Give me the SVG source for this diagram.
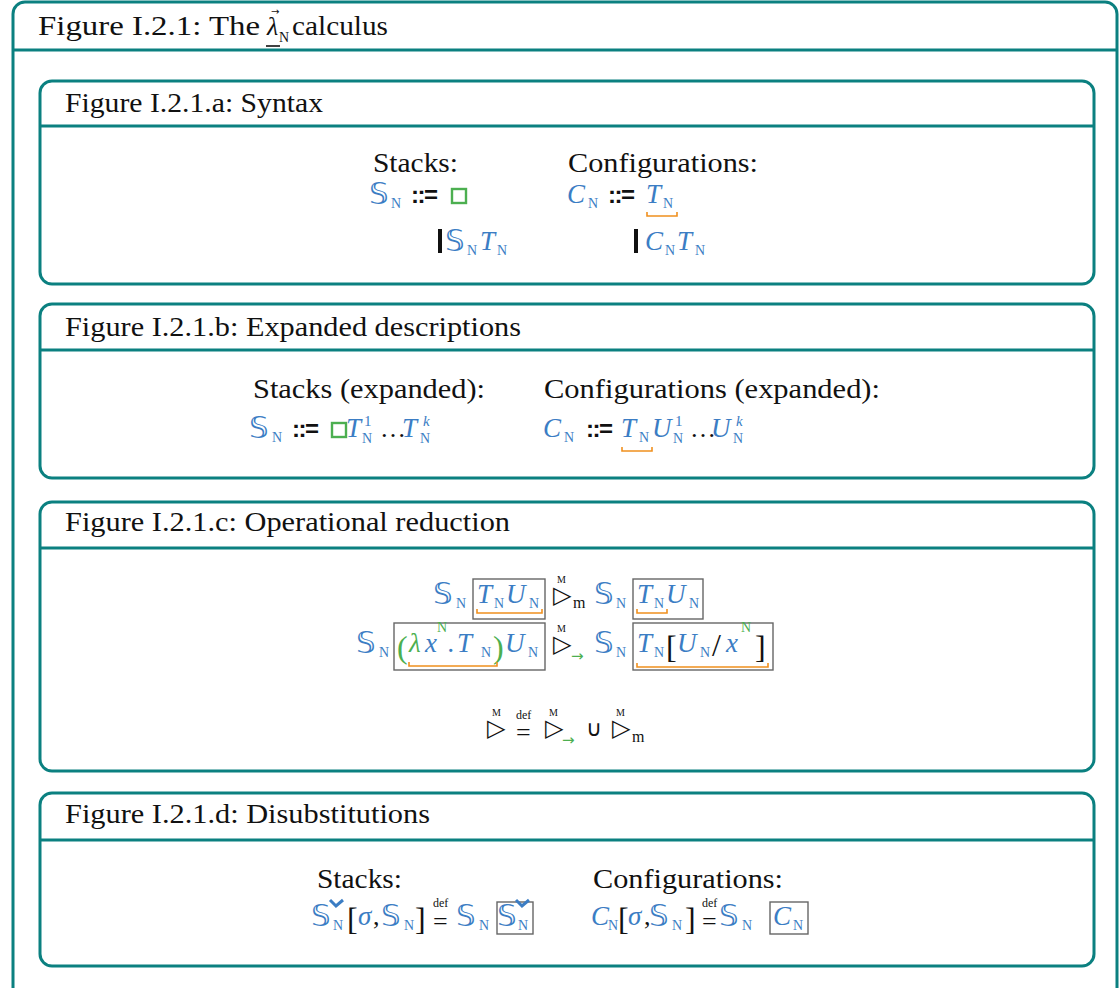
<svg xmlns="http://www.w3.org/2000/svg" width="1120" height="988" viewBox="0 0 1120 988">
<style>
.frame{fill:#fff;stroke:#0b8080;stroke-width:3}
.div{stroke:#0b8080;stroke-width:3}
.h{font-family:"Liberation Serif",serif;font-size:27px;fill:#111}
.m{font-family:"Liberation Serif",serif;font-style:italic;font-size:27px;fill:#3b7dc4}
.ds{font-family:"DejaVu Sans",sans-serif;font-style:italic;font-size:31px;fill:#3b7dc4}
.sub{font-family:"Liberation Serif",serif;font-size:14px;fill:#3b7dc4}
.sup{font-family:"Liberation Serif",serif;font-size:15px;fill:#3b7dc4}
.gs{font-family:"Liberation Serif",serif;font-size:14px;fill:#4caf50}
.op{font-family:"Liberation Sans",sans-serif;font-weight:bold;font-size:24px;fill:#111;letter-spacing:-1.5px}
.blk{font-family:"Liberation Serif",serif;font-size:26px;fill:#111}
.tri{font-family:"DejaVu Sans",sans-serif;font-size:24px;fill:#111}
.tiny{font-family:"Liberation Serif",serif;font-size:10px;fill:#111}
.sm{font-family:"Liberation Serif",serif;font-size:16px;fill:#111}
.dfs{font-family:"Liberation Serif",serif;font-size:12px;fill:#111}
.eq{font-family:"Liberation Serif",serif;font-size:26px;fill:#111}
.ga{font-family:"DejaVu Sans",sans-serif;font-size:15px;fill:#4caf50}
.ub{fill:none;stroke:#f0901e;stroke-width:1.6}
.bx{fill:none;stroke:#666;stroke-width:1.4}
.gsq{fill:none;stroke:#4caf50;stroke-width:2.4}
.chk{fill:none;stroke:#3b7dc4;stroke-width:3}
.gp{font-family:"Liberation Serif",serif;font-size:32px;fill:#4caf50}
.gl{font-family:"Liberation Serif",serif;font-style:italic;font-size:27px;fill:#4caf50}
.br{font-family:"Liberation Serif",serif;font-size:32px;fill:#111}
</style>

<g id="outer">
<rect class="frame" x="13" y="2" width="1104" height="1010" rx="12"/>
<line class="div" x1="13" y1="50" x2="1117" y2="50"/>
<text class="h" x="38" y="35" textLength="222" lengthAdjust="spacingAndGlyphs">Figure I.2.1: The</text>
<text x="267" y="35" style="font-family:'Liberation Serif',serif;font-style:italic;font-size:26px;fill:#111">λ</text>
<line x1="266" y1="46" x2="280" y2="46" stroke="#111" stroke-width="1.6"/>
<text x="271" y="15" style="font-family:'DejaVu Sans',sans-serif;font-size:10px;fill:#111">→</text>
<text x="279" y="42" style="font-family:'Liberation Serif',serif;font-size:14px;fill:#111">N</text>
<text class="h" x="292" y="35" textLength="96" lengthAdjust="spacingAndGlyphs">calculus</text>
</g>

<g id="syntax">
<rect class="frame" x="40" y="81" width="1054" height="203" rx="12"/>
<line class="div" x1="40" y1="126" x2="1094" y2="126"/>
<text class="h" x="65" y="112" textLength="258" lengthAdjust="spacingAndGlyphs">Figure I.2.1.a: Syntax</text>
<text class="h" x="373" y="172" textLength="85" lengthAdjust="spacingAndGlyphs">Stacks:</text>
<text class="h" x="568" y="172" textLength="190" lengthAdjust="spacingAndGlyphs">Configurations:</text>
<text class="ds" x="369" y="204">𝕊</text><text class="sub" x="391" y="208">N</text>
<text class="op" x="411" y="203">::=</text>
<rect class="gsq" x="452" y="189" width="14" height="14"/>
<rect x="438" y="229" width="4" height="24" fill="#111"/>
<text class="ds" x="445" y="251">𝕊</text><text class="sub" x="467" y="255">N</text>
<text class="m" x="480" y="250">T</text><text class="sub" x="497" y="255">N</text>
<text class="m" x="567" y="203">C</text><text class="sub" x="588" y="208">N</text>
<text class="op" x="608" y="203">::=</text>
<text class="m" x="646" y="203">T</text><text class="sub" x="663" y="208">N</text>
<path class="ub" d="M647,212 v4 h30 v-4"/>
<rect x="634" y="229" width="4" height="24" fill="#111"/>
<text class="m" x="645" y="250">C</text><text class="sub" x="665" y="255">N</text>
<text class="m" x="677" y="250">T</text><text class="sub" x="695" y="255">N</text>
</g>

<g id="expanded">
<rect class="frame" x="40" y="304" width="1054" height="174" rx="12"/>
<line class="div" x1="40" y1="350" x2="1094" y2="350"/>
<text class="h" x="65" y="336" textLength="456" lengthAdjust="spacingAndGlyphs">Figure I.2.1.b: Expanded descriptions</text>
<text class="h" x="253" y="398" textLength="232" lengthAdjust="spacingAndGlyphs">Stacks (expanded):</text>
<text class="h" x="544" y="398" textLength="336" lengthAdjust="spacingAndGlyphs">Configurations (expanded):</text>
<text class="ds" x="249" y="438">𝕊</text><text class="sub" x="272" y="442">N</text>
<text class="op" x="292" y="437">::=</text>
<rect class="gsq" x="332" y="423" width="14" height="14"/>
<text class="m" x="346" y="437">T</text><text class="sup" x="364" y="426">1</text><text class="sub" x="362" y="443">N</text>
<text class="blk" x="380" y="437">…</text>
<text class="m" x="402" y="437">T</text><text class="sup" x="423" y="426" font-style="italic">k</text><text class="sub" x="420" y="443">N</text>
<text class="m" x="543" y="437">C</text><text class="sub" x="564" y="442">N</text>
<text class="op" x="586" y="437">::=</text>
<text class="m" x="621" y="437">T</text><text class="sub" x="639" y="442">N</text>
<path class="ub" d="M622,447 v4 h30 v-4"/>
<text class="m" x="652" y="437">U</text><text class="sup" x="675" y="426">1</text><text class="sub" x="673" y="443">N</text>
<text class="blk" x="690" y="437">…</text>
<text class="m" x="711" y="437">U</text><text class="sup" x="736" y="426" font-style="italic">k</text><text class="sub" x="733" y="443">N</text>
</g>

<g id="reduction">
<rect class="frame" x="40" y="502" width="1054" height="269" rx="12"/>
<line class="div" x1="40" y1="548" x2="1094" y2="548"/>
<text class="h" x="65" y="531" textLength="445" lengthAdjust="spacingAndGlyphs">Figure I.2.1.c: Operational reduction</text>
<text class="ds" x="433" y="604">𝕊</text><text class="sub" x="456" y="608">N</text>
<rect class="bx" x="473" y="579" width="72" height="40"/>
<text class="m" x="477" y="603">T</text><text class="sub" x="494" y="608">N</text>
<text class="m" x="506" y="603">U</text><text class="sub" x="529" y="608">N</text>
<path class="ub" d="M477,609 v4 h65 v-4"/>
<text class="tri" x="553" y="603">▷</text><text class="tiny" x="557" y="583">M</text><text class="sm" x="573" y="608">m</text>
<text class="ds" x="594" y="604">𝕊</text><text class="sub" x="616" y="608">N</text>
<rect class="bx" x="633" y="579" width="70" height="40"/>
<text class="m" x="637" y="603">T</text><text class="sub" x="654" y="608">N</text>
<text class="m" x="666" y="603">U</text><text class="sub" x="689" y="608">N</text>
<path class="ub" d="M637,609 v4 h30 v-4"/>
<text class="ds" x="356" y="653">𝕊</text><text class="sub" x="379" y="657">N</text>
<rect class="bx" x="394" y="623" width="151" height="47"/>
<text class="gp" x="397" y="658">(</text>
<text class="gl" x="409" y="652">λ</text>
<text class="m" x="425" y="652">x</text><text class="gs" x="437" y="632">N</text>
<text class="m" x="448" y="652">.</text>
<text class="m" x="457" y="652">T</text><text class="sub" x="481" y="657">N</text>
<text class="gp" x="493" y="658">)</text>
<text class="m" x="505" y="652">U</text><text class="sub" x="528" y="657">N</text>
<path class="ub" d="M409,662 v4 h88 v-4"/>
<text class="tri" x="553" y="652">▷</text><text class="tiny" x="557" y="632">M</text>
<text class="ga" x="571" y="661">→</text>
<text class="ds" x="594" y="653">𝕊</text><text class="sub" x="616" y="657">N</text>
<rect class="bx" x="633" y="623" width="140" height="47"/>
<text class="m" x="637" y="652">T</text><text class="sub" x="654" y="657">N</text>
<text class="br" x="666" y="658">[</text>
<text class="m" x="677" y="652">U</text><text class="sub" x="700" y="657">N</text>
<text class="br" x="712" y="656">/</text>
<text class="m" x="726" y="652">x</text><text class="gs" x="741" y="632">N</text>
<text class="br" x="755" y="658">]</text>
<path class="ub" d="M637,663 v4 h131 v-4"/>
<text class="tri" x="487" y="736">▷</text><text class="tiny" x="492" y="716">M</text>
<text class="dfs" x="516" y="719">def</text>
<text class="eq" x="516" y="741">=</text>
<text class="tri" x="545" y="736">▷</text><text class="tiny" x="549" y="716">M</text>
<text class="ga" x="562" y="745">→</text>
<text x="586" y="736" style="font-family:'DejaVu Sans',sans-serif;font-size:22px;fill:#111">∪</text>
<text class="tri" x="612" y="736">▷</text><text class="tiny" x="616" y="716">M</text><text class="sm" x="632" y="742">m</text>
</g>

<g id="disubstitutions">
<rect class="frame" x="40" y="793" width="1054" height="173" rx="12"/>
<line class="div" x1="40" y1="840" x2="1094" y2="840"/>
<text class="h" x="65" y="823" textLength="365" lengthAdjust="spacingAndGlyphs">Figure I.2.1.d: Disubstitutions</text>
<text class="h" x="317" y="888" textLength="85" lengthAdjust="spacingAndGlyphs">Stacks:</text>
<text class="h" x="593" y="888" textLength="190" lengthAdjust="spacingAndGlyphs">Configurations:</text>
<text class="ds" x="311" y="926">𝕊</text><path class="chk" d="M330,900 l6,6 l7,-6"/><text class="sub" x="333" y="930">N</text>
<text class="br" x="347" y="930">[</text>
<text class="m" x="358" y="925">σ</text>
<text class="blk" x="373" y="925">,</text>
<text class="ds" x="381" y="926">𝕊</text><text class="sub" x="404" y="930">N</text>
<text class="br" x="415" y="930">]</text>
<text class="dfs" x="433" y="907">def</text>
<text class="eq" x="433" y="930">=</text>
<text class="ds" x="456" y="926">𝕊</text><text class="sub" x="479" y="930">N</text>
<rect class="bx" x="497" y="902" width="36" height="32"/>
<text class="ds" x="497" y="926">𝕊</text><path class="chk" d="M516,900 l6,6 l7,-6"/><text class="sub" x="518" y="930">N</text>
<text class="m" x="591" y="925">C</text><text class="sub" x="608" y="930">N</text>
<text class="br" x="618" y="930">[</text>
<text class="m" x="628" y="925">σ</text>
<text class="blk" x="644" y="925">,</text>
<text class="ds" x="649" y="926">𝕊</text><text class="sub" x="672" y="930">N</text>
<text class="br" x="685" y="930">]</text>
<text class="dfs" x="702" y="907">def</text>
<text class="eq" x="702" y="930">=</text>
<text class="ds" x="719" y="926">𝕊</text><text class="sub" x="742" y="930">N</text>
<rect class="bx" x="770" y="902" width="38" height="32"/>
<text class="m" x="773" y="925">C</text><text class="sub" x="793" y="930">N</text>
</g>
</svg>
